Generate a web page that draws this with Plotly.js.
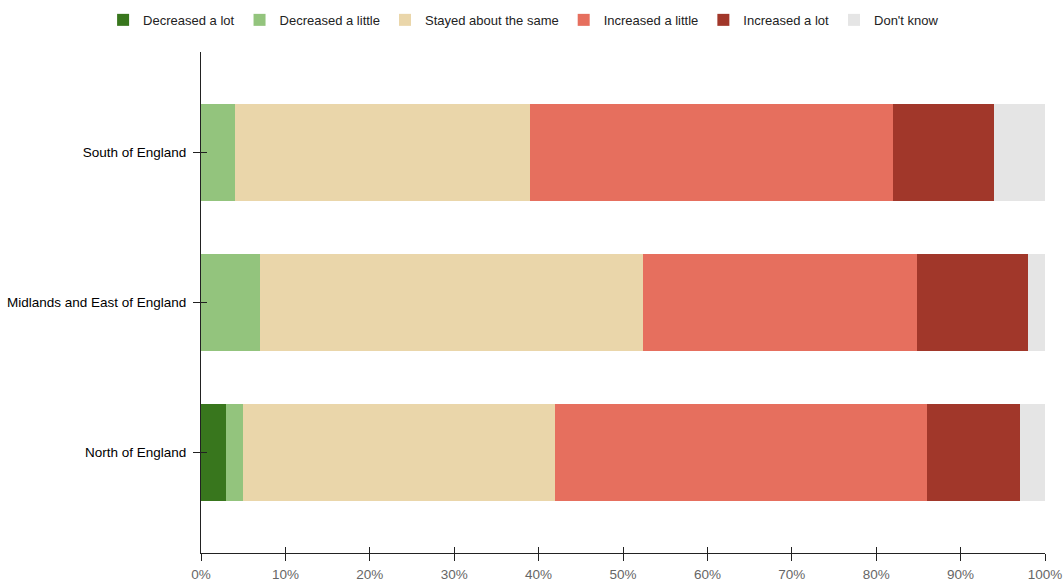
<!DOCTYPE html>
<html>
<head>
<meta charset="utf-8">
<script src="https://cdn.plot.ly/plotly-3.0.1.min.js"></script>
<style>
  html, body { margin: 0; padding: 0; background: #fff; }
  #chart { width: 1063px; height: 582px; }
</style>
</head>
<body>
<div id="chart"></div>
<script>
// Regions, listed top to bottom
const regions = ['South of England', 'Midlands and East of England', 'North of England'];

// Response categories and their colours
const responses = ['Decreased a lot', 'Decreased a little', 'Stayed about the same',
                   'Increased a little', 'Increased a lot', "Don't know"];
const colours = ['#38761d', '#93c47d', '#ead6aa', '#e66f5e', '#a1372a', '#e5e5e5'];

// Share of respondents (%) per region, one array per response
const decreasedLot    = [0,    0,    3];
const decreasedLittle = [4,    7,    2];
const stayedSame      = [35,   45.4, 37];
const increasedLittle = [43,   32.4, 44];
const increasedLot    = [12,   13.2, 11];
const dontKnow        = [6,    2,    3];

const series = [decreasedLot, decreasedLittle, stayedSame, increasedLittle, increasedLot, dontKnow];

const font = 'Liberation Sans, Arial, sans-serif';
const fontSize = 13.5;

const traces = series.map((vals, i) => ({
  type: 'bar',
  orientation: 'h',
  name: responses[i],
  x: vals,
  y: regions,
  marker: { color: colours[i], line: { width: 0 } },
  width: 0.65,
  hovertemplate: '%{y}: %{x}%<extra>' + responses[i] + '</extra>'
}));

// Invisible companion trace so the overlay axes can draw inward tick marks
traces.push({
  type: 'scatter', mode: 'markers',
  x: [0], y: [regions[0]],
  xaxis: 'x2', yaxis: 'y2',
  marker: { opacity: 0 }, showlegend: false, hoverinfo: 'skip'
});

const yRange = [2.67, -0.67];
const tickVals = [0, 10, 20, 30, 40, 50, 60, 70, 80, 90, 100];

const layout = {
  width: 1063, height: 582,
  margin: { l: 201, r: 18, t: 52, b: 29, autoexpand: false },
  paper_bgcolor: '#fff', plot_bgcolor: '#fff',
  barmode: 'stack',
  font: { family: font, size: fontSize, color: '#000' },
  showlegend: true,
  legend: {
    orientation: 'h',
    x: -0.116, xanchor: 'left',
    y: 1.094, yanchor: 'top',
    traceorder: 'normal',
    font: { family: font, size: 13, color: '#222' },
    itemclick: false
  },
  xaxis: {
    range: [0, 100], tickvals: tickVals, ticktext: tickVals.map(v => v + '%'),
    showgrid: false, zeroline: false,
    showline: true, linecolor: '#222', linewidth: 1,
    ticks: 'outside', ticklen: 7, tickcolor: '#222', tickwidth: 1,
    ticklabelstandoff: 2,
    tickfont: { family: font, size: fontSize, color: '#666' },
    fixedrange: true
  },
  yaxis: {
    type: 'category', categoryorder: 'array', categoryarray: regions,
    range: yRange,
    showgrid: false, zeroline: false,
    showline: true, linecolor: '#222', linewidth: 1,
    ticks: 'outside', ticklen: 7, tickcolor: '#222', tickwidth: 1,
    ticklabelstandoff: 4,
    tickfont: { family: font, size: fontSize, color: '#000' },
    fixedrange: true
  },
  xaxis2: {
    overlaying: 'x', anchor: 'y2', side: 'bottom',
    range: [0, 100], tickvals: tickVals, showticklabels: false,
    showgrid: false, zeroline: false, showline: false,
    ticks: 'inside', ticklen: 6, tickcolor: '#222', tickwidth: 1,
    fixedrange: true
  },
  yaxis2: {
    overlaying: 'y', anchor: 'x2', side: 'left',
    type: 'category', categoryorder: 'array', categoryarray: regions,
    range: yRange, showticklabels: false,
    showgrid: false, zeroline: false, showline: false,
    ticks: 'inside', ticklen: 6, tickcolor: '#222', tickwidth: 1,
    fixedrange: true
  }
};

Plotly.newPlot('chart', traces, layout, { displayModeBar: false });
</script>
</body>
</html>
